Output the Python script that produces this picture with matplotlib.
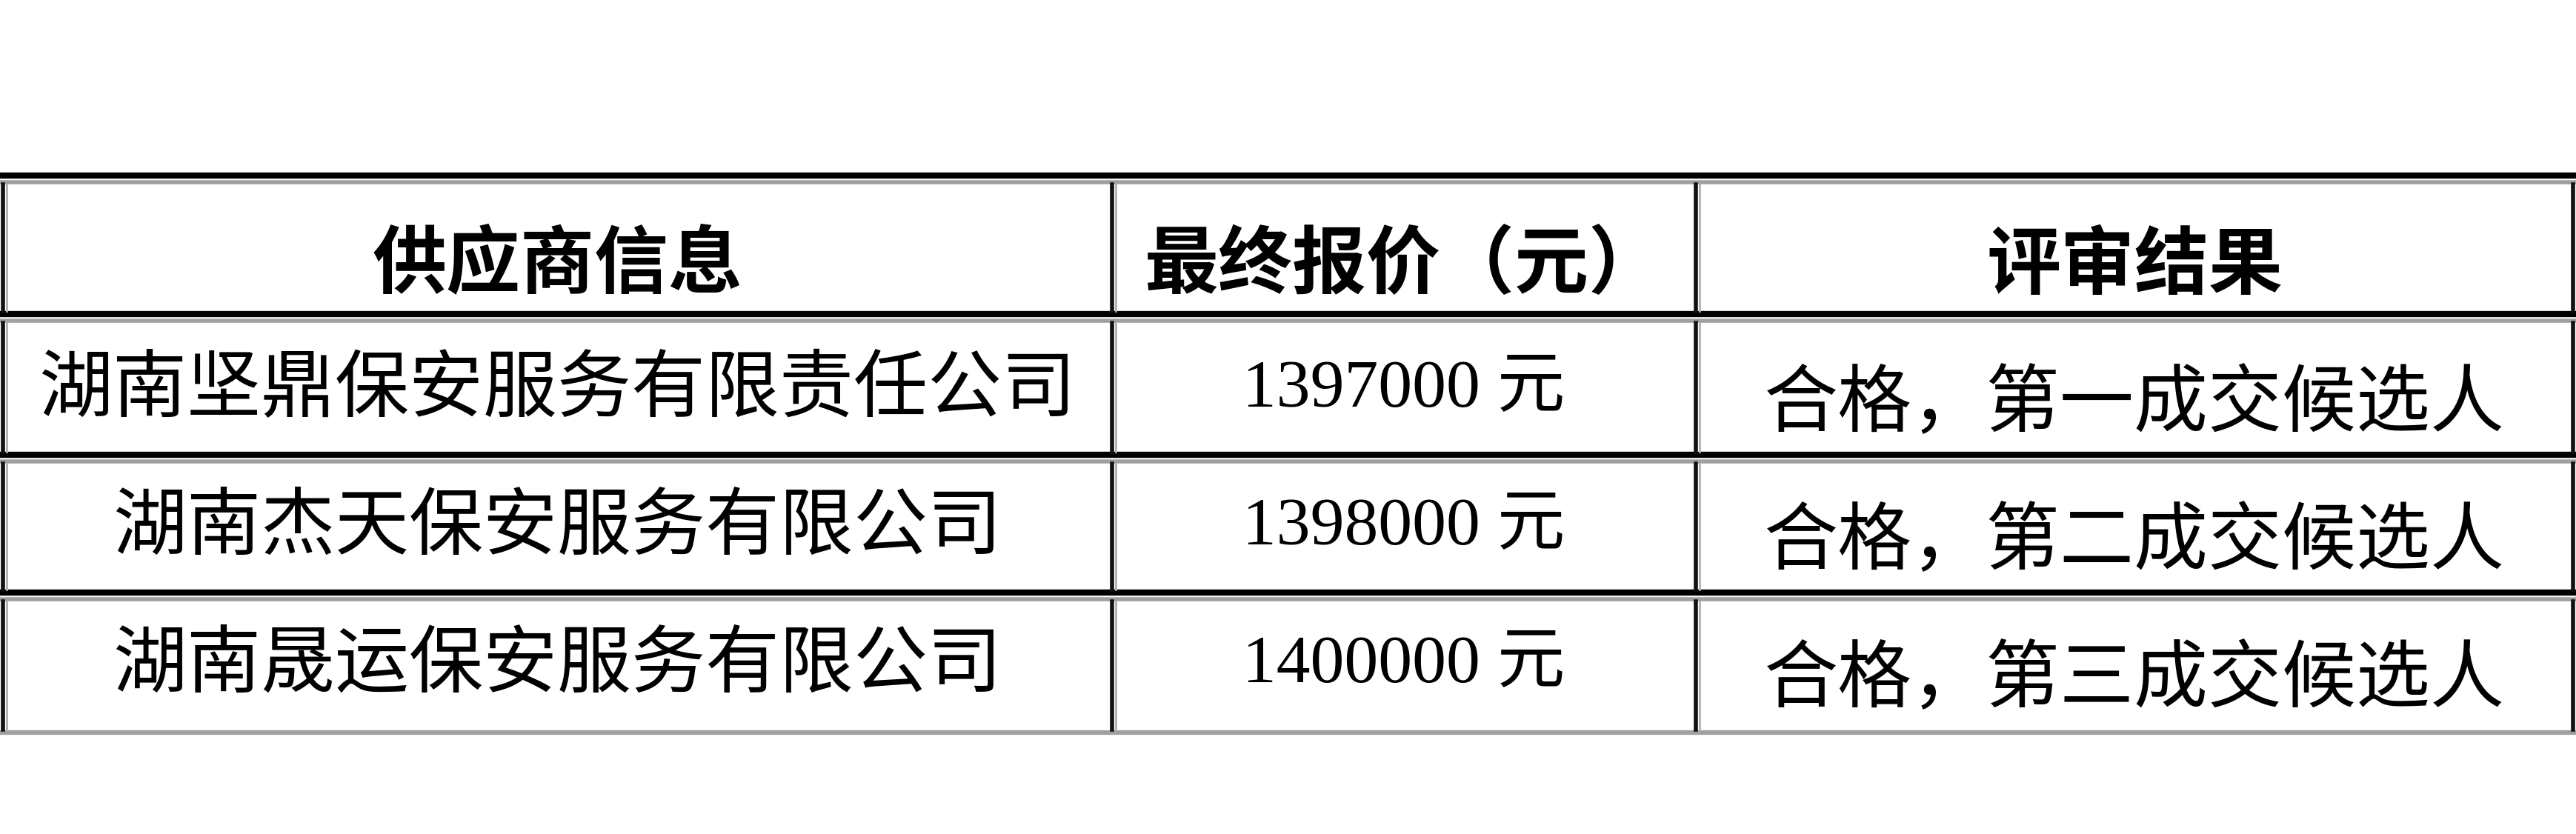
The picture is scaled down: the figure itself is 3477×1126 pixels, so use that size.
import matplotlib
matplotlib.use("Agg")
import matplotlib.pyplot as plt

headers = ["供应商信息", "最终报价（元）", "评审结果"]
suppliers = ["湖南坚鼎保安服务有限责任公司", "湖南杰天保安服务有限公司", "湖南晟运保安服务有限公司"]
prices = ["1397000 元", "1398000 元", "1400000 元"]
results = ["合格，第一成交候选人", "合格，第二成交候选人", "合格，第三成交候选人"]

W, H = 3477, 1126
fig = plt.figure(figsize=(W / 100, H / 100), dpi=100)
ax = fig.add_axes([0, 0, 1, 1])
ax.set_xlim(0, W)
ax.set_ylim(H, 0)
ax.axis("off")

cols = [4, 1501, 2289, 3473]
rows = [237, 424, 614, 800, 989]
CJK = ["Noto Sans CJK SC", "DejaVu Sans"]

for i, y in enumerate(rows[:-1]):
    ax.plot([0, W], [y, y], color="black", lw=6, solid_capstyle="butt")
    ax.plot([0, W], [y + 9, y + 9], color="#a0a0a0", lw=4, solid_capstyle="butt")
ax.plot([0, W], [rows[-1], rows[-1]], color="#a0a0a0", lw=4.5, solid_capstyle="butt")
for x in cols:
    for r in range(len(rows) - 1):
        ax.plot([x, x], [rows[r] + 12, rows[r + 1] - 4], color="#111111", lw=4)
        ax.plot([x + 5, x + 5], [rows[r] + 12, rows[r + 1] - 4], color="#b0b0b0", lw=2)

mid = [(cols[i] + cols[i + 1]) / 2 for i in range(3)]
hy = 359
for x, t in zip(mid, headers):
    ax.text(x, hy, t, ha="center", va="center", fontsize=72, fontweight="bold", family=CJK)

yc = [526, 712, 898]
for i in range(3):
    ax.text(mid[0], yc[i], suppliers[i], ha="center", va="center", fontsize=72, family=CJK)
    ax.text(mid[1], yc[i], prices[i], ha="center", va="center", fontsize=66,
            family=["Liberation Serif", "Noto Sans CJK SC"])
    ax.text(mid[2], yc[i] + 20, results[i], ha="center", va="center", fontsize=72, family=CJK)

fig.savefig("out.png", dpi=100, facecolor="white")
